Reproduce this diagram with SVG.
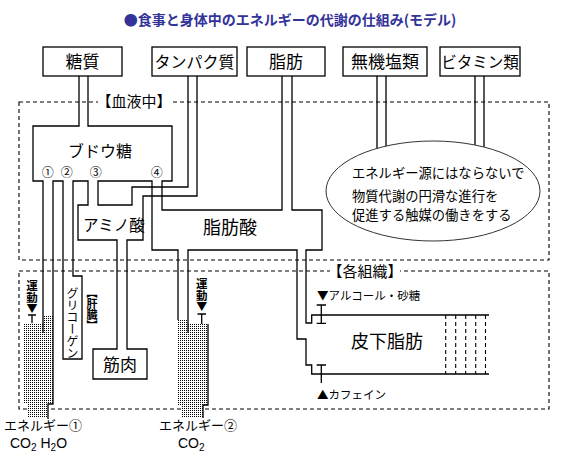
<svg xmlns="http://www.w3.org/2000/svg" width="579" height="454" viewBox="0 0 579 454">
<defs>
<pattern id="dots" width="2" height="2" patternUnits="userSpaceOnUse">
<rect width="2" height="2" fill="#fff"/>
<rect width="1" height="1" fill="#000"/>
</pattern>
<style>
.t{font-family:"Noto Sans CJK JP","Liberation Sans",sans-serif;fill:#000}
.ln{fill:none;stroke:#000;stroke-width:1.3}
.box{fill:#fff;stroke:#000;stroke-width:1.3}
.dash{fill:none;stroke:#000;stroke-width:1.1;stroke-dasharray:4 3}
.c{text-anchor:middle}
.v{writing-mode:tb}
</style>
</defs>
<rect width="579" height="454" fill="#fff"/>
<text class="t c" x="290" y="25" font-size="14" font-weight="bold" style="fill:#333399">●食事と身体中のエネルギーの代謝の仕組み(モデル)</text>

<g id="regions">
<rect class="dash" x="19" y="102" width="530" height="158"/>
<rect class="dash" x="19" y="271" width="530" height="138"/>
<rect x="98" y="92" width="72" height="18" fill="#fff"/>
<text class="t c" x="134" y="107" font-size="15">【血液中】</text>
<rect x="330" y="263" width="70" height="17" fill="#fff"/>
<text class="t c" x="365" y="277" font-size="15">【各組織】</text>
</g>

<g id="energy-fill">
<polygon fill="url(#dots)" points="43,315 53,315 53,404 48,404 48,418 28,418 28,404 23,404 23,323 43,323"/>
<polygon fill="url(#dots)" points="177,320 188,320 188,324 208,324 208,405 203,405 203,418 182,418 182,405 177,405"/>
</g>

<g id="connectors">
<path class="ln" d="M79,76 V126 H33 V181 H43 V333"/>
<path class="ln" d="M48,419 V404 H53 V181 H63 V359 H82 V276 H73 V181 H88 V205 H78 V240 H117 V349 H93 V379 H147 V349 H127 V240 H143 V196 H197 V76"/>
<path class="ln" d="M188,76 V187 H132 V205 H98 V181 H152 V250 H178 V320"/>
<path class="ln" d="M88,76 V126 H172 V181 H162 V210 H282 V76"/>
<path class="ln" d="M292,76 V210 H322 V250 H306 V323 H311.7 V315 H489"/>
<path class="ln" d="M188,333 V250 H297 V339 H306 V365 H311.7 V374 H489"/>
<path class="ln" d="M208,324 V405 H203 V418"/>
<path class="ln" d="M377,76 V150 M386,76 V150 M475,76 V150 M484,76 V150"/>
<path class="ln" d="M28,315 H36 M32,315 V323 M197.5,314 H206 M201.7,314 V324"/>
<path class="ln" d="M316.7,305 H326 M321.3,305 V323.3 M316.7,323.3 H326 M316.7,365 H326 M321.3,365 V383"/>
<path class="dash" d="M445.7,315 V374 M455.7,315 V374 M465.7,315 V374 M475.7,315 V374 M485.5,315 V374"/>
</g>

<g id="n-tousitsu"><rect class="box" x="43" y="47" width="79" height="29"/><text class="t c" x="82.5" y="68" font-size="17">糖質</text></g>
<g id="n-tanpaku"><rect class="box" x="152" y="47" width="85" height="29"/><text class="t c" x="194.5" y="67.5" font-size="16">タンパク質</text></g>
<g id="n-shibou"><rect class="box" x="247" y="47" width="78" height="29"/><text class="t c" x="286" y="68" font-size="17">脂肪</text></g>
<g id="n-muki"><rect class="box" x="343" y="47" width="84" height="29"/><text class="t c" x="385" y="68" font-size="17">無機塩類</text></g>
<g id="n-vitamin"><rect class="box" x="440" y="47" width="80" height="29"/><text class="t c" x="480" y="67.5" font-size="15.5">ビタミン類</text></g>

<g id="n-note">
<ellipse cx="433" cy="191" rx="107" ry="50" fill="#fff" stroke="#333" stroke-width="1"/>
<text class="t" x="352" y="178" font-size="13.3">エネルギー源にはならないで</text>
<text class="t" x="352" y="201" font-size="13.3">物質代謝の円滑な進行を</text>
<text class="t" x="352" y="220" font-size="13.3">促進する触媒の働きをする</text>
</g>

<g id="n-budou">
<text class="t c" x="100" y="157" font-size="16">ブドウ糖</text>
<text class="t c" x="47.7" y="177" font-size="12">①</text>
<text class="t c" x="66.7" y="177" font-size="12">②</text>
<text class="t c" x="95.7" y="177" font-size="12">③</text>
<text class="t c" x="156.7" y="177" font-size="12">④</text>
</g>
<g id="n-amino"><text class="t" x="83" y="231" font-size="15.5">アミノ酸</text></g>
<g id="n-shibousan"><text class="t c" x="230" y="234" font-size="18">脂肪酸</text></g>
<g id="n-glycogen">
<text class="t v" x="72.5" y="287" font-size="12">グリコーゲン</text>
<text class="t v" x="92" y="287" font-size="11" font-weight="bold">【肝臓】</text>
</g>
<g id="n-kinniku"><text class="t c" x="120" y="371" font-size="17">筋肉</text></g>
<g id="n-hika"><text class="t c" x="387" y="348" font-size="18">皮下脂肪</text>
<text class="t" x="317" y="300" font-size="11.5">▼アルコール・砂糖</text>
<text class="t" x="317" y="399" font-size="11.5">▲カフェイン</text>
</g>
<g id="n-energy1">
<text class="t v" x="32" y="280" font-size="11.5" font-weight="bold">運動</text>
<text class="t c" x="32" y="313" font-size="11">▼</text>
<text class="t" x="4" y="430" font-size="13">エネルギー①</text>
<text x="10" y="448" font-family="Liberation Sans, sans-serif" font-size="14">CO<tspan font-size="10" dy="3">2</tspan><tspan dy="-3"> H</tspan><tspan font-size="10" dy="3">2</tspan><tspan dy="-3">O</tspan></text>
</g>
<g id="n-energy2">
<text class="t v" x="201.7" y="278" font-size="11.5" font-weight="bold">運動</text>
<text class="t c" x="201.7" y="311" font-size="11">▼</text>
<text class="t" x="159" y="430" font-size="13">エネルギー②</text>
<text x="178" y="448" font-family="Liberation Sans, sans-serif" font-size="14">CO<tspan font-size="10" dy="3">2</tspan></text>
</g>
</svg>
